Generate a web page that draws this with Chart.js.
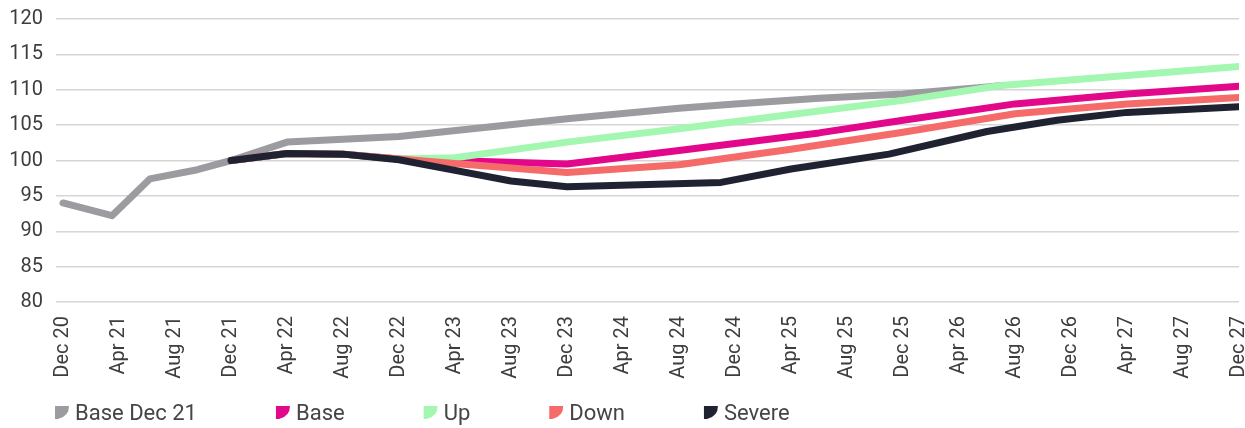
<!DOCTYPE html>
<html>
<head>
<meta charset="utf-8">
<script src="https://cdn.jsdelivr.net/npm/chart.js@4/dist/chart.umd.min.js"></script>
<style>
  html, body { margin: 0; padding: 0; background: #ffffff; }
  canvas { display: block; }
</style>
</head>
<body>
<canvas id="chart" width="1245" height="428"></canvas>
<script>
// Axis labels, one every four months (month 0 = Dec 20, month 84 = Dec 27)
const tickLabels = [
  'Dec 20', 'Apr 21', 'Aug 21', 'Dec 21', 'Apr 22', 'Aug 22', 'Dec 22', 'Apr 23',
  'Aug 23', 'Dec 23', 'Apr 24', 'Aug 24', 'Dec 24', 'Apr 25', 'Aug 25', 'Dec 25',
  'Apr 26', 'Aug 26', 'Dec 26', 'Apr 27', 'Aug 27', 'Dec 27'
];
const tickStepMonths = 4;

const seriesNames = ['Base Dec 21', 'Base', 'Up', 'Down', 'Severe'];
const seriesColors = ['#9c9ca0', '#e2078b', '#a4f7b0', '#f46b6a', '#1f2231'];

// Index values as [months since Dec 20, index]
const baseDec21 = [
  [0, 94.0], [3.5, 92.2], [6.2, 97.4], [9.6, 98.7], [12, 100.0], [16, 102.6],
  [24, 103.4], [36, 105.9], [44, 107.4], [48, 108.0], [54, 108.8], [60, 109.4],
  [66, 110.4], [67, 110.6]
];
const base = [
  [12, 100.0], [16, 101.0], [20, 100.9], [24, 100.2], [36, 99.5], [44, 101.4],
  [54, 103.9], [60, 105.7], [68, 108.0], [76, 109.4], [84, 110.5]
];
const up = [
  [12, 100.0], [16, 101.0], [20, 100.9], [24, 100.2], [28, 100.4], [36, 102.6],
  [44, 104.5], [52, 106.5], [60, 108.5], [67, 110.6], [76, 112.0], [84, 113.3]
];
const down = [
  [12, 100.0], [16, 101.0], [20, 100.9], [24, 100.2], [36, 98.3], [44, 99.4],
  [52, 101.6], [60, 104.0], [68, 106.6], [76, 108.0], [84, 108.9]
];
const severe = [
  [12, 100.0], [16, 101.0], [20, 100.9], [24, 100.1], [28, 98.6], [32, 97.1],
  [36, 96.3], [47, 96.9], [52, 98.8], [59, 100.9], [66, 104.1], [71, 105.7],
  [76, 106.8], [84, 107.6]
];

const yMin = 80, yMax = 120, yStep = 5;

const seriesData = [baseDec21, base, up, down, severe];

// Legend swatch: flat top and left edges, curved outer edge
function drawSwatch(ctx, x, y, w, h, color) {
  ctx.beginPath();
  ctx.moveTo(x, y);
  ctx.lineTo(x + w, y);
  ctx.quadraticCurveTo(x + w, y + h * 0.8, x + w * 0.22, y + h);
  ctx.lineTo(x, y + h);
  ctx.closePath();
  ctx.fillStyle = color;
  ctx.fill();
}

const scenarioLegend = {
  id: 'scenarioLegend',
  afterDraw(chart) {
    const ctx = chart.ctx;
    ctx.save();
    ctx.font = '22px Roboto';
    ctx.textBaseline = 'middle';
    ctx.textAlign = 'left';
    const cy = 413;
    let x = 55;
    chart.data.datasets.forEach((ds) => {
      drawSwatch(ctx, x, cy - 7, 14, 13, ds.borderColor);
      ctx.fillStyle = '#454545';
      ctx.fillText(ds.label, x + 20, cy + 1);
      x += 20 + ctx.measureText(ds.label).width + 79;
    });
    ctx.restore();
  }
};

const datasets = seriesData.map((points, i) => ({
  label: seriesNames[i],
  data: points.map(([m, v]) => ({ x: m, y: v })),
  borderColor: seriesColors[i],
  backgroundColor: seriesColors[i],
  borderWidth: 7,
  borderCapStyle: 'round',
  borderJoinStyle: 'round',
  pointRadius: 0,
  pointHoverRadius: 0,
  tension: 0,
  fill: false,
  // later scenarios sit on top of earlier ones
  order: seriesNames.length - i
}));

new Chart(document.getElementById('chart'), {
  type: 'line',
  data: { datasets },
  options: {
    responsive: false,
    animation: false,
    devicePixelRatio: 1,
    layout: { padding: { top: 19, right: 6, left: 0, bottom: 0 } },
    plugins: {
      legend: { display: false },
      tooltip: { enabled: false }
    },
    scales: {
      x: {
        type: 'linear',
        min: -0.5,
        max: (tickLabels.length - 1) * tickStepMonths,
        grid: { display: false, drawTicks: false },
        border: { display: false },
        afterBuildTicks(scale) {
          scale.ticks = tickLabels.map((_, i) => ({ value: i * tickStepMonths }));
        },
        afterFit(scale) {
          scale.height = 126;
          scale.paddingLeft = 0;
          scale.paddingRight = 0;
        },
        ticks: {
          autoSkip: false,
          minRotation: 90,
          maxRotation: 90,
          padding: 14,
          color: '#3d3d3d',
          font: { family: 'Roboto', size: 20 },
          callback: (value) => tickLabels[Math.round(value / tickStepMonths)]
        }
      },
      y: {
        min: yMin,
        max: yMax,
        grid: { color: '#d6d6d6', lineWidth: 1.5, drawTicks: false },
        border: { display: false },
        afterFit(scale) {
          scale.width = 56;
          scale.paddingTop = 0;
          scale.paddingBottom = 0;
        },
        ticks: {
          stepSize: yStep,
          padding: 13,
          color: '#3d3d3d',
          font: { family: 'Roboto', size: 20 }
        }
      }
    }
  },
  plugins: [scenarioLegend]
});
</script>
</body>
</html>
